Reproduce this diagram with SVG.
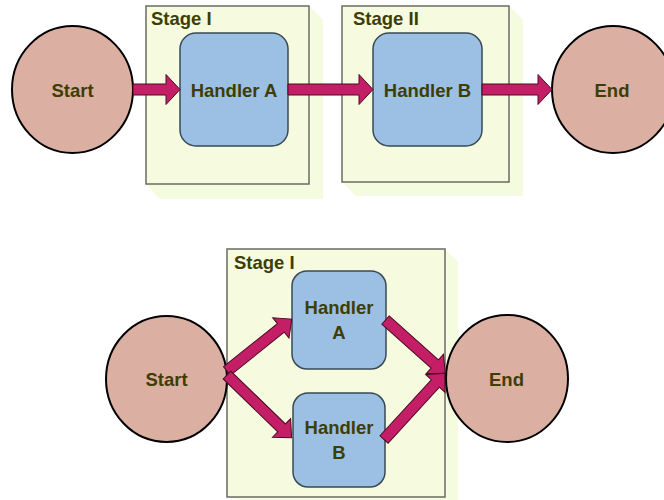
<svg xmlns="http://www.w3.org/2000/svg" width="664" height="500" viewBox="0 0 664 500">
  <defs>
    <style>
      .term { fill: #DCAFA3; stroke: #000; stroke-width: 2; }
      .handler { fill: #9BC0E3; stroke: #3a4a55; stroke-width: 1.5; }
      .stage { fill: #F6FBE0; stroke: #6b6b62; stroke-width: 1.5; }
      .shadow { fill: #F4FBDF; stroke: none; }
      .arrow { fill: #C41F66; stroke: #4a0a25; stroke-width: 1; stroke-linejoin: miter; }
      text { font-family: "Liberation Sans", Arial, sans-serif; font-weight: bold; font-size: 18.5px; fill: #3E3E04; }
      .c { text-anchor: middle; }
    </style>
  </defs>

  <!-- Pipeline: two sequential stages -->
  <g id="stage1-top">
    <polygon class="shadow" points="309,6 323,20 323,199 160,199 146,184"/>
    <rect class="stage" x="146" y="6" width="163" height="178"/>
    <text x="151" y="25">Stage I</text>
  </g>
  <g id="stage2-top">
    <polygon class="shadow" points="509,6 523,20 523,196 356,196 342,182"/>
    <rect class="stage" x="342" y="6" width="167" height="176"/>
    <text x="353" y="25">Stage II</text>
  </g>
  <g id="start-top">
    <ellipse class="term" cx="72.5" cy="89.5" rx="60.5" ry="63.5"/>
    <text class="c" x="72.5" y="96.5">Start</text>
  </g>
  <g id="handlerA-top">
    <rect class="handler" x="180" y="33" width="108" height="113" rx="16"/>
    <text class="c" x="234" y="96.5">Handler A</text>
  </g>
  <g id="handlerB-top">
    <rect class="handler" x="373" y="33" width="109" height="113" rx="16"/>
    <text class="c" x="427.5" y="96.5">Handler B</text>
  </g>
  <g id="end-top">
    <ellipse class="term" cx="613" cy="89.5" rx="61" ry="63.5"/>
    <text class="c" x="612" y="96.5">End</text>
  </g>

  <!-- Parallel: one stage with two handlers -->
  <g id="stage1-bottom">
    <polygon class="shadow" points="445,249 458,262 458,500 240,500 227,497"/>
    <rect class="stage" x="227" y="249" width="218" height="248"/>
    <text x="234" y="268.5">Stage I</text>
  </g>
  <g id="start-bottom">
    <ellipse class="term" cx="166.5" cy="379" rx="60.5" ry="63"/>
    <text class="c" x="166.5" y="385.5">Start</text>
  </g>
  <g id="handlerA-bottom">
    <rect class="handler" x="292" y="271" width="94" height="98" rx="15"/>
    <text class="c" x="339" y="314">Handler</text>
    <text class="c" x="339" y="338.5">A</text>
  </g>
  <g id="handlerB-bottom">
    <rect class="handler" x="293" y="393" width="92" height="94" rx="15"/>
    <text class="c" x="339" y="434">Handler</text>
    <text class="c" x="339" y="458.5">B</text>
  </g>
  <g id="end-bottom">
    <ellipse class="term" cx="507" cy="378.5" rx="61" ry="63.5"/>
    <text class="c" x="506.5" y="385.5">End</text>
  </g>

  <!-- Connectors: block arrows, shaft 11 wide, head 30 wide and 14 long -->
  <g id="connectors">
    <path class="arrow" transform="translate(133,89.5)" d="M0,-5.5 H33 V-15 L47,0 L33,15 V5.5 H0 Z"/>
    <path class="arrow" transform="translate(288,89.5)" d="M0,-5.5 H71 V-15 L85,0 L71,15 V5.5 H0 Z"/>
    <path class="arrow" transform="translate(482,89.5)" d="M0,-5.5 H56 V-15 L70,0 L56,15 V5.5 H0 Z"/>

    <path class="arrow" transform="translate(227,371) rotate(-38.7)" d="M0,-5.5 H69 V-13 L83,0 L69,13 V5.5 H0 Z"/>
    <path class="arrow" transform="translate(227,375) rotate(44.1)" d="M0,-5.5 H76 V-13 L90,0 L76,13 V5.5 H0 Z"/>
    <path class="arrow" transform="translate(385.5,320) rotate(41.7)" d="M0,-5.5 H66 V-13 L80,0 L66,13 V5.5 H0 Z"/>
    <path class="arrow" transform="translate(384,439.5) rotate(-47.5)" d="M0,-5.5 H76 V-13 L90,0 L76,13 V5.5 H0 Z"/>
  </g>
</svg>
